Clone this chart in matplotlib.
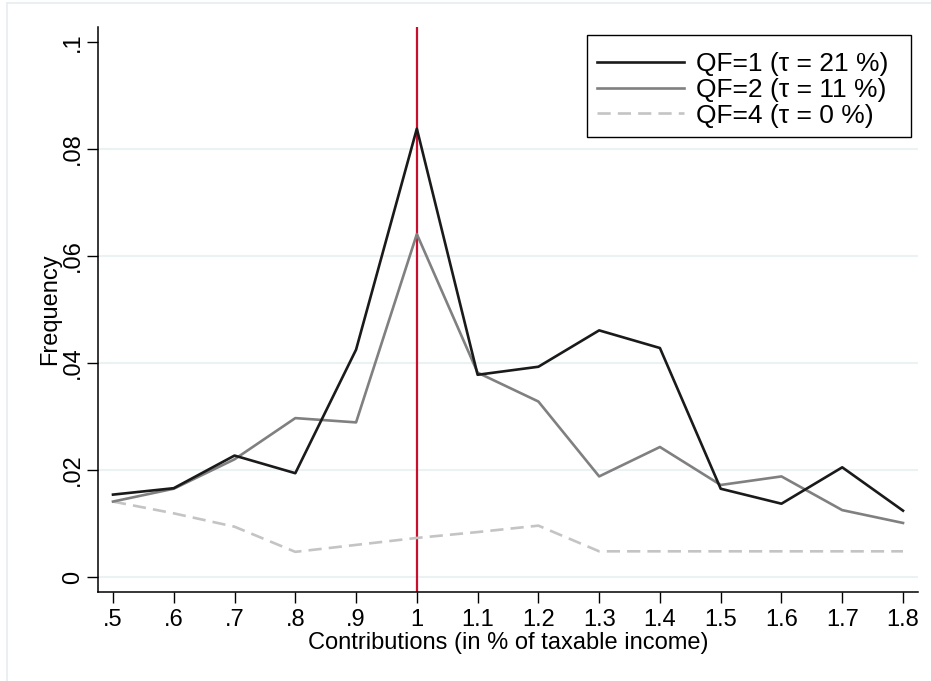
import matplotlib
matplotlib.use("Agg")
import matplotlib.pyplot as plt
from matplotlib.lines import Line2D
from matplotlib.patches import Rectangle

plt.rcParams['font.family'] = ['Liberation Sans', 'DejaVu Sans']

# contribution bins (in % of taxable income)
contrib = [0.5, 0.6, 0.7, 0.8, 0.9, 1.0, 1.1, 1.2, 1.3, 1.4, 1.5, 1.6, 1.7, 1.8]
tick_labels = ['.5', '.6', '.7', '.8', '.9', '1', '1.1', '1.2', '1.3', '1.4', '1.5', '1.6', '1.7', '1.8']

qf1 = [0.0154, 0.0166, 0.0227, 0.0194, 0.0425, 0.0838, 0.0378, 0.0393, 0.0461, 0.0428, 0.0165, 0.0137, 0.0205, 0.0124]
qf2 = [0.0141, 0.0165, 0.0220, 0.0297, 0.0289, 0.0641, 0.0382, 0.0328, 0.0188, 0.0243, 0.0172, 0.0188, 0.0125, 0.0101]
qf4 = [0.0141, 0.0119, 0.0094, 0.0047, 0.0060, 0.0073, 0.0084, 0.0096, 0.0048, 0.0048, 0.0048, 0.0048, 0.0048, 0.0048]

y_ticks = [0, 0.02, 0.04, 0.06, 0.08, 0.1]
y_tick_labels = ['0', '.02', '.04', '.06', '.08', '.1']

W, H = 931, 681
fig = plt.figure(figsize=(W / 100, H / 100), dpi=100)
fig.patch.set_facecolor('white')
ax = fig.add_axes([98 / W, 89 / H, 820 / W, 565 / H])

# faint outer border like the stata graph region
fig.add_artist(Line2D([7 / W, 7 / W], [0, 1 - 3 / H], color='#e6eef0', lw=1.2, transform=fig.transFigure))
fig.add_artist(Line2D([7 / W, 1], [1 - 3 / H, 1 - 3 / H], color='#e6eef0', lw=1.2, transform=fig.transFigure))

for g in y_ticks[:-1]:
    ax.axhline(g, color='#eaf2f3', lw=1.5, zorder=0)

ax.axvline(1.0, color='#c8102e', lw=1.6, zorder=1)

ax.plot(contrib, qf1, color='#1a1a1a', lw=1.9, label='QF=1 (τ = 21 %)', zorder=4)
ax.plot(contrib, qf2, color='#808080', lw=1.9, label='QF=2 (τ = 11 %)', zorder=3)
ax.plot(contrib, qf4, color='#c4c4c4', lw=1.9, dashes=(5, 2.7), label='QF=4 (τ = 0 %)', zorder=2)

ax.set_xlim(0.5 - 15 / 608, 1.8 + 15 / 608)
ax.set_ylim(-15 / 5350, 0.1 + 15 / 5350)

ax.set_xticks(contrib)
ax.set_xticklabels(tick_labels, fontsize=17)
ax.set_yticks(y_ticks)
ax.set_yticklabels(y_tick_labels, fontsize=17, rotation=90, va='center')
ax.tick_params(direction='out', length=8, width=1, color='black', pad=4)
ax.tick_params(axis='y', pad=2)

ax.spines['top'].set_visible(False)
ax.spines['right'].set_visible(False)
ax.spines['left'].set_linewidth(1.1)
ax.spines['bottom'].set_linewidth(1.1)

ax.set_xlabel('Contributions (in % of taxable income)', fontsize=17, labelpad=1)
ax.set_ylabel('Frequency', fontsize=17, labelpad=1)

# legend box drawn by hand so the padding matches the stata one
fig.add_artist(Rectangle((587 / W, 1 - 137 / H), 324 / W, 102 / H, transform=fig.transFigure,
                         facecolor='white', edgecolor='black', lw=1.0, zorder=5))
leg = fig.legend(*ax.get_legend_handles_labels(), loc='upper left',
                 bbox_to_anchor=(597 / W, 1 - 52 / H), bbox_transform=fig.transFigure,
                 fontsize=19, frameon=False, handlelength=3.3, handletextpad=0.45,
                 labelspacing=0.07, borderpad=0, borderaxespad=0)
leg.set_zorder(6)

fig.savefig('out.png', dpi=100)
